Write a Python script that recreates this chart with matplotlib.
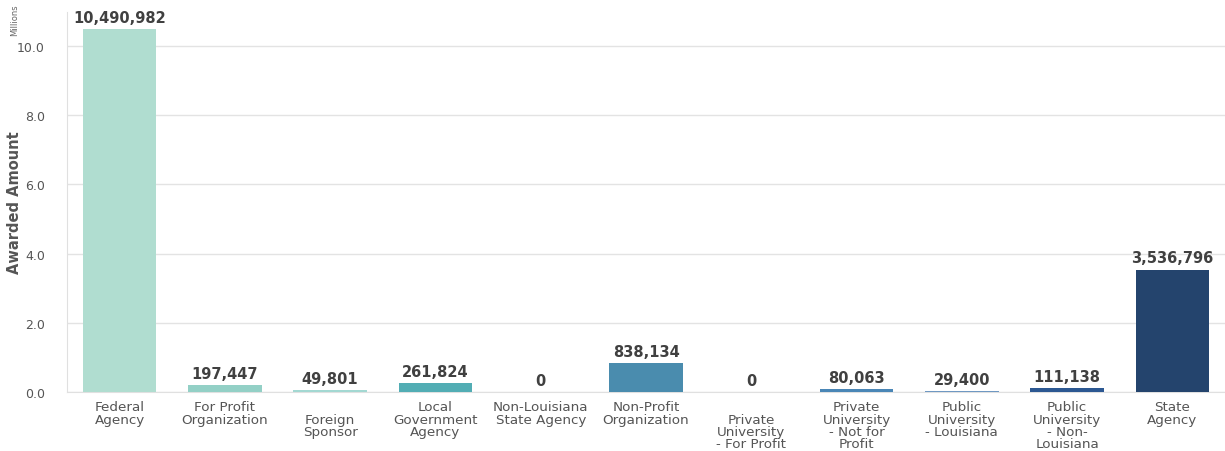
import numpy as np
import matplotlib.pyplot as plt

categories = ['Federal\nAgency', 'For Profit\nOrganization', '\nForeign\nSponsor',
              'Local\nGovernment\nAgency', 'Non-Louisiana\nState Agency',
              'Non-Profit\nOrganization', '\nPrivate\nUniversity\n- For Profit',
              'Private\nUniversity\n- Not for\nProfit', 'Public\nUniversity\n- Louisiana',
              'Public\nUniversity\n- Non-\nLouisiana', 'State\nAgency']
amounts = [10490982, 197447, 49801, 261824, 0, 838134, 0, 80063, 29400, 111138, 3536796]
colors = ['#b0ddd0', '#93d0c6', '#a3d8d2', '#52adb4', '#4a9bb0', '#4a8cae',
          '#4d8bb8', '#4a86b6', '#6f98c2', '#2c5892', '#24446d']
yticks = [0, 2, 4, 6, 8, 10]

fig = plt.figure(figsize=(12.25, 4.52), dpi=100)
ax = fig.add_axes([67/1225, 59/452, 1158/1225, 380/452])

x = np.arange(len(categories))
vals = np.array(amounts) / 1e6
ax.bar(x, vals, width=0.7, color=colors, zorder=3)
for xi, v, a in zip(x, vals, amounts):
    ax.annotate(f'{a:,}', (xi, v), xytext=(0, 3), textcoords='offset points',
                ha='center', va='bottom', fontsize=10.5, fontweight='bold', color='#404040')

ax.set_xlim(-0.5, len(categories) - 0.5)
ax.set_ylim(0, 10.98)
ax.set_yticks(yticks)
ax.set_yticklabels([f'{t:.1f}' for t in yticks])
ax.set_xticks(x)
ax.set_xticklabels(categories, fontsize=9.7, color='#555555', linespacing=0.92)
ax.tick_params(axis='y', labelsize=9, colors='#555555', length=0, pad=16)
ax.tick_params(axis='x', length=0, pad=6)
ax.grid(axis='y', color='#e3e3e3', linewidth=1, zorder=0)
for s in ['top', 'right']:
    ax.spines[s].set_visible(False)
ax.spines['left'].set_color('#e0e0e0')
ax.spines['bottom'].set_color('#e0e0e0')
fig.text(15/1225, 1 - 203/452, 'Awarded Amount', rotation=90, fontsize=10.5,
         fontweight='bold', color='#555555', ha='center', va='center')
fig.text(15/1225, 1 - 20/452, 'Millions', rotation=90, fontsize=6, color='#666666',
         ha='center', va='center')

plt.savefig('out.png', dpi=100)
